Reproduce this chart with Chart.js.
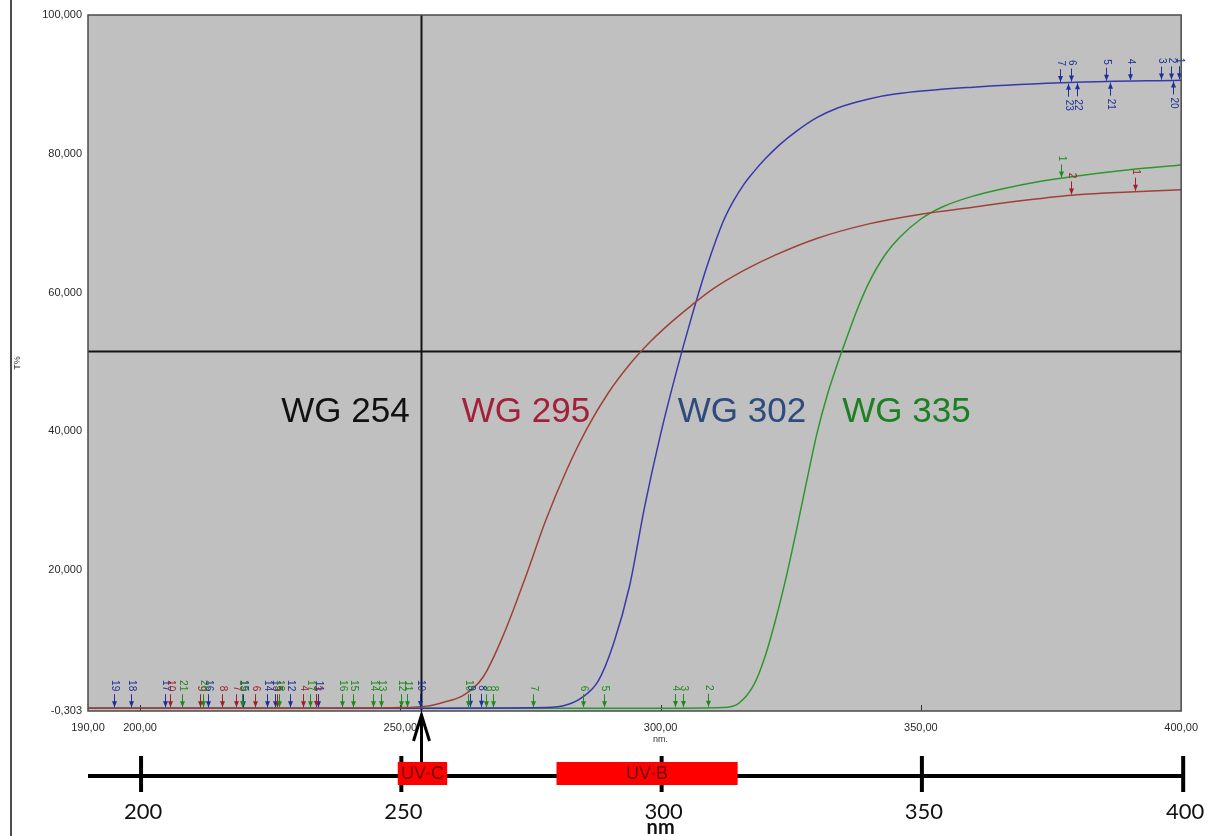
<!DOCTYPE html>
<html>
<head>
<meta charset="utf-8">
<script src="https://cdn.jsdelivr.net/npm/chart.js@4.4.1/dist/chart.umd.min.js"></script>
<style>
  html, body { margin: 0; padding: 0; background: #ffffff; }
  canvas { display: block; }
</style>
</head>
<body>
<canvas id="grafico" width="1208" height="836"></canvas>
<script>
// nomi dei filtri e colori (etichette e curve)
var filtri = ['WG 254', 'WG 295', 'WG 302', 'WG 335'];
var colori_etichette = ['#111111', '#a3203a', '#2d4b7d', '#1c7f22'];

// curva WG 295 : lunghezza d'onda (nm) e trasmittanza (T%)
var nm_295 = [190, 230, 250, 255, 258, 262, 266, 270, 274, 278, 282, 286, 290, 294, 298, 302, 306, 310, 316, 322, 330, 340, 350, 360, 370, 380, 390, 400];
var t_295 = [0.1, 0.1, 0.2, 0.4, 0.9, 1.9, 4.7, 11, 18.9, 27.3, 34.5, 40.6, 45.6, 49.6, 52.9, 55.7, 58.2, 60.5, 63.2, 65.4, 67.8, 69.9, 71.3, 72.3, 73.3, 74.1, 74.5, 74.8];

// curva WG 302
var nm_302 = [190, 250, 278, 282, 285, 288, 291, 294, 297, 300, 303, 306, 309, 312, 314, 316, 318, 320, 323, 326, 330, 334, 340, 345, 360, 380, 400];
var t_302 = [0.1, 0.1, 0.2, 0.6, 1.7, 4.0, 9.5, 17.6, 29.4, 39.6, 48.5, 56.6, 64.0, 70.2, 73.2, 75.6, 77.5, 79.2, 81.4, 83.2, 85.2, 86.6, 87.9, 88.6, 89.6, 90.3, 90.6];

// curva WG 335
var nm_335 = [190, 300, 312, 315, 318, 320, 322, 324, 326, 328, 330, 332, 334, 336, 338, 340, 343, 346, 350, 354, 360, 366, 372, 380, 390, 400];
var t_335 = [0.1, 0.1, 0.2, 0.8, 3.6, 7.4, 12.6, 18.6, 25.4, 32.6, 39.6, 45.2, 49.8, 54.0, 58.0, 61.4, 65.3, 68.0, 70.6, 72.3, 73.9, 75.0, 75.9, 76.8, 77.7, 78.4];

// tick degli assi
var tick_y = [-0.303, 20, 40, 60, 80, 100];
var tick_x = [190, 200, 250, 300, 350, 400];

// asse sotto il grafico con le bande UV
var tick_banda = [200, 250, 300, 350, 400];
var bande_uv = ['UV-C', 'UV-B'];
var inizio_uv = [249.5, 280];
var fine_uv = [259, 314.8];

// cursore (mirino) del software
var croce_nm = 254;
var croce_t = 51.6;

// marcatori dei picchi: nm, numero, curva (0=295, 1=302, 2=335), sotto la curva?
var marker_nm = [194.9, 198.2, 204.8, 213.0, 219.8, 224.3, 226.0, 228.8, 234.2, 253.7, 263.4, 265.4,
  205.7, 211.5, 215.7, 218.4, 222.1, 226.3, 231.3, 233.8,
  208.0, 212.1, 219.5, 226.7, 232.6, 238.7, 240.9, 244.8, 246.2, 250.2, 251.2, 263.0, 266.5, 267.8, 275.5, 285.1, 289.1, 302.7, 304.3, 309.1,
  376.7, 378.9, 385.5, 390.2, 396.2, 398.0, 399.6, 378.2, 379.9, 386.4, 398.5,
  378.8, 391.2, 376.9];
var marker_lbl = ['19', '18', '17', '16', '15', '14', '13', '12', '11', '10', '9', '8',
  '10', '9', '8', '7', '6', '5', '4', '3',
  '21', '20', '19', '18', '17', '16', '15', '14', '13', '12', '11', '10', '9', '8', '7', '6', '5', '4', '3', '2',
  '7', '6', '5', '4', '3', '2', '1', '23', '22', '21', '20',
  '2', '1', '1'];
var marker_serie = [1, 1, 1, 1, 1, 1, 1, 1, 1, 1, 1, 1,
  0, 0, 0, 0, 0, 0, 0, 0,
  2, 2, 2, 2, 2, 2, 2, 2, 2, 2, 2, 2, 2, 2, 2, 2, 2, 2, 2, 2,
  1, 1, 1, 1, 1, 1, 1, 1, 1, 1, 1,
  0, 0, 2];
var marker_sotto = [0, 0, 0, 0, 0, 0, 0, 0, 0, 0, 0, 0,
  0, 0, 0, 0, 0, 0, 0, 0,
  0, 0, 0, 0, 0, 0, 0, 0, 0, 0, 0, 0, 0, 0, 0, 0, 0, 0, 0, 0,
  0, 0, 0, 0, 0, 0, 0, 1, 1, 1, 1,
  0, 0, 0];

var curve_nm = [nm_295, nm_302, nm_335];
var curve_t = [t_295, t_302, t_335];
var colori_curve = ['#9e4236', '#3838ad', '#2e962e'];
var colori_marker = ['#a01e2a', '#1f2f9a', '#1e8a1e'];

// unisce due array in punti {x, y}
function punti(xs, ys) {
  var out = [];
  for (var i = 0; i < xs.length; i++) {
    out.push({ x: xs[i], y: ys[i] });
  }
  return out;
}

// valore della curva a una certa lunghezza d'onda (interpolazione lineare)
function valore_curva(xs, ys, x) {
  for (var i = 1; i < xs.length; i++) {
    if (x <= xs[i]) {
      var f = (x - xs[i - 1]) / (xs[i] - xs[i - 1]);
      return ys[i - 1] + f * (ys[i] - ys[i - 1]);
    }
  }
  return ys[ys.length - 1];
}

var decorazioni = {
  id: 'decorazioni',
  beforeDraw: function(chart) {
    var ctx = chart.ctx;
    var a = chart.chartArea;
    ctx.save();
    ctx.fillStyle = '#ffffff';
    ctx.fillRect(0, 0, chart.width, chart.height);
    ctx.fillStyle = '#c0c0c0';
    ctx.fillRect(a.left, a.top, a.right - a.left, a.bottom - a.top);
    ctx.restore();
  },
  beforeDatasetsDraw: function(chart) {
    var ctx = chart.ctx;
    var a = chart.chartArea;
    var sx = chart.scales.x;
    var sy = chart.scales.y;
    ctx.save();
    // mirino
    ctx.strokeStyle = '#141414';
    ctx.lineWidth = 2;
    var cx = Math.round(sx.getPixelForValue(croce_nm)) + 0.5;
    var cy = Math.round(sy.getPixelForValue(croce_t)) + 0.5;
    ctx.beginPath();
    ctx.moveTo(cx, a.top);
    ctx.lineTo(cx, a.bottom);
    ctx.moveTo(a.left, cy);
    ctx.lineTo(a.right, cy);
    ctx.stroke();
    // piccoli tick interni sul bordo basso
    ctx.strokeStyle = '#333333';
    ctx.lineWidth = 1;
    for (var i = 1; i < tick_x.length - 1; i++) {
      var tx = Math.round(sx.getPixelForValue(tick_x[i])) + 0.5;
      ctx.beginPath();
      ctx.moveTo(tx, a.bottom);
      ctx.lineTo(tx, a.bottom - 6);
      ctx.stroke();
    }
    ctx.restore();
  },
  afterDatasetsDraw: function(chart) {
    var ctx = chart.ctx;
    var a = chart.chartArea;
    var sx = chart.scales.x;
    var sy = chart.scales.y;
    ctx.save();

    // marcatori con freccia e numero ruotato
    ctx.font = '10px "Liberation Sans", Arial, sans-serif';
    ctx.textBaseline = 'middle';
    for (var i = 0; i < marker_nm.length; i++) {
      var s = marker_serie[i];
      var px = Math.round(sx.getPixelForValue(marker_nm[i])) + 0.5;
      var py = sy.getPixelForValue(valore_curva(curve_nm[s], curve_t[s], marker_nm[i]));
      var dir = marker_sotto[i] ? 1 : -1;
      var tip = py + dir * 1;
      ctx.strokeStyle = colori_marker[s];
      ctx.fillStyle = colori_marker[s];
      ctx.lineWidth = 1;
      ctx.beginPath();
      ctx.moveTo(px, tip);
      ctx.lineTo(px, tip + dir * 13);
      ctx.stroke();
      ctx.beginPath();
      ctx.moveTo(px, tip);
      ctx.lineTo(px - 2.5, tip + dir * 6);
      ctx.lineTo(px + 2.5, tip + dir * 6);
      ctx.closePath();
      ctx.fill();
      ctx.save();
      ctx.translate(px, tip + dir * 16);
      ctx.rotate(Math.PI / 2);
      ctx.textAlign = marker_sotto[i] ? 'left' : 'right';
      ctx.fillText(marker_lbl[i], 0, 0);
      ctx.restore();
    }

    // nomi dei filtri
    ctx.font = '35px "Liberation Sans", Arial, sans-serif';
    ctx.textBaseline = 'middle';
    var pos_nm = [251.8, 261.8, 303.3, 334.9];
    var ty = sy.getPixelForValue(42.7);
    for (var k = 0; k < filtri.length; k++) {
      ctx.fillStyle = colori_etichette[k];
      ctx.textAlign = k === 0 ? 'right' : 'left';
      ctx.fillText(filtri[k], sx.getPixelForValue(pos_nm[k]), ty);
    }

    // bordo dell'area del grafico
    ctx.strokeStyle = '#4a4a4a';
    ctx.lineWidth = 1.5;
    ctx.strokeRect(a.left, a.top, a.right - a.left, a.bottom - a.top);
    ctx.restore();
  },
  afterDraw: function(chart) {
    var ctx = chart.ctx;
    var a = chart.chartArea;
    var sx = chart.scales.x;
    ctx.save();

    // riga verticale a sinistra
    ctx.strokeStyle = '#111111';
    ctx.lineWidth = 1.5;
    ctx.beginPath();
    ctx.moveTo(11, 0);
    ctx.lineTo(11, chart.height);
    ctx.stroke();

    // titolo asse y
    ctx.fillStyle = '#333333';
    ctx.font = '9px "Liberation Sans", Arial, sans-serif';
    ctx.textAlign = 'center';
    ctx.textBaseline = 'middle';
    ctx.save();
    ctx.translate(18, (a.top + a.bottom) / 2);
    ctx.rotate(-Math.PI / 2);
    ctx.fillText('T%', 0, 0);
    ctx.restore();

    // titolo asse x
    ctx.fillText('nm.', sx.getPixelForValue(300), a.bottom + 29);

    // asse delle bande UV
    var yb = 776;
    ctx.strokeStyle = '#000000';
    ctx.lineWidth = 4;
    ctx.beginPath();
    ctx.moveTo(a.left, yb);
    ctx.lineTo(a.right + 3, yb);
    ctx.stroke();
    ctx.fillStyle = '#111111';
    ctx.font = '22px Lato, "Open Sans", sans-serif';
    ctx.textBaseline = 'middle';
    for (var i = 0; i < tick_banda.length; i++) {
      var bx = sx.getPixelForValue(tick_banda[i]) + (i === tick_banda.length - 1 ? 2 : 1);
      ctx.beginPath();
      ctx.moveTo(bx, 756);
      ctx.lineTo(bx, 792);
      ctx.stroke();
      ctx.fillText(String(tick_banda[i]), bx + 2, 812);
    }
    ctx.font = 'bold 20px Lato, "Open Sans", sans-serif';
    ctx.fillText('nm', sx.getPixelForValue(300), 828);

    // rettangoli UV
    ctx.font = '18px "Liberation Sans", Arial, sans-serif';
    for (var j = 0; j < bande_uv.length; j++) {
      var x0 = sx.getPixelForValue(inizio_uv[j]);
      var x1 = sx.getPixelForValue(fine_uv[j]);
      ctx.fillStyle = '#ff0000';
      ctx.fillRect(x0, 762, x1 - x0, 23);
      ctx.fillStyle = '#6a0a0a';
      ctx.fillText(bande_uv[j], (x0 + x1) / 2, 774);
    }

    // freccia verso il cursore
    var ax = Math.round(sx.getPixelForValue(croce_nm)) + 0.5;
    ctx.strokeStyle = '#000000';
    ctx.lineWidth = 3;
    ctx.beginPath();
    ctx.moveTo(ax, 762);
    ctx.lineTo(ax, a.bottom + 5);
    ctx.stroke();
    ctx.beginPath();
    ctx.moveTo(ax - 8, a.bottom + 30);
    ctx.lineTo(ax, a.bottom + 4);
    ctx.lineTo(ax + 8, a.bottom + 30);
    ctx.stroke();
    ctx.restore();
  }
};

var ctx = document.getElementById('grafico').getContext('2d');
var chart = new Chart(ctx, {
  type: 'line',
  data: {
    datasets: [
      { label: filtri[1], data: punti(nm_295, t_295), borderColor: colori_curve[0] },
      { label: filtri[2], data: punti(nm_302, t_302), borderColor: colori_curve[1] },
      { label: filtri[3], data: punti(nm_335, t_335), borderColor: colori_curve[2] }
    ]
  },
  options: {
    responsive: false,
    animation: false,
    layout: { padding: { top: 15, right: 26, left: 0, bottom: 0 } },
    elements: {
      line: { borderWidth: 1.5, cubicInterpolationMode: 'monotone', fill: false },
      point: { radius: 0 }
    },
    plugins: {
      legend: { display: false },
      tooltip: { enabled: false }
    },
    scales: {
      x: {
        type: 'linear',
        min: 190,
        max: 400,
        grid: { display: false, drawTicks: false, tickLength: 0 },
        border: { display: false },
        afterBuildTicks: function(scale) {
          scale.ticks = tick_x.map(function(v) { return { value: v }; });
        },
        afterFit: function(scale) { scale.height = 125; },
        ticks: {
          autoSkip: false,
          maxRotation: 0,
          padding: 10,
          color: '#2a2a2a',
          font: { family: '"Liberation Sans", Arial, sans-serif', size: 11 },
          callback: function(v) { return Number(v).toFixed(2).replace('.', ','); }
        }
      },
      y: {
        min: -0.303,
        max: 100,
        grid: { display: false, drawTicks: false, tickLength: 0 },
        border: { display: false },
        afterBuildTicks: function(scale) {
          scale.ticks = tick_y.map(function(v) { return { value: v }; });
        },
        afterFit: function(scale) { scale.width = 88; },
        ticks: {
          autoSkip: false,
          padding: 6,
          color: '#2a2a2a',
          font: { family: '"Liberation Sans", Arial, sans-serif', size: 11 },
          callback: function(v) { return Number(v).toFixed(3).replace('.', ','); }
        }
      }
    }
  },
  plugins: [decorazioni]
});
</script>
</body>
</html>
